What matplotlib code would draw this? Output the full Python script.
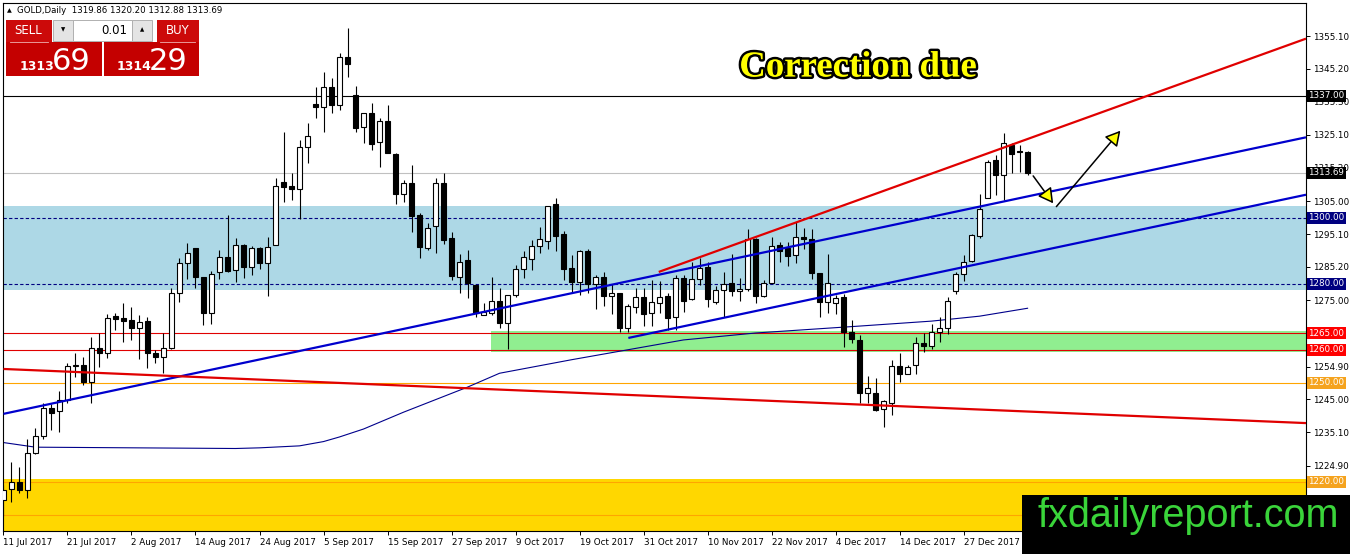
import matplotlib
matplotlib.use("Agg")
import numpy as np
import matplotlib.pyplot as plt
import matplotlib.patheffects as pe
from matplotlib.patches import Rectangle, FancyArrowPatch
from matplotlib.transforms import blended_transform_factory

# Velas diarias del oro
opens = [1214.5, 1217.7, 1220.0, 1217.5, 1228.6, 1234.0, 1242.4, 1241.5, 1244.8, 1255.2,
         1255.4, 1250.3, 1260.5, 1259.1, 1270.3, 1269.5, 1269.0, 1266.5, 1268.7, 1258.9,
         1257.7, 1260.7, 1277.1, 1286.4, 1290.8, 1282.0, 1271.3, 1283.5, 1288.1, 1284.3,
         1291.8, 1285.0, 1290.8, 1286.2, 1291.9, 1310.8, 1309.5, 1308.7, 1321.4, 1334.4,
         1333.7, 1339.5, 1334.2, 1348.8, 1337.2, 1327.4, 1331.7, 1322.9, 1329.2, 1319.3,
         1307.1, 1310.7, 1300.8, 1290.8, 1297.6, 1310.6, 1293.8, 1282.2, 1287.2, 1279.6,
         1270.6, 1271.1, 1274.8, 1268.0, 1276.6, 1284.4, 1287.5, 1291.6, 1293.1, 1304.1,
         1295.1, 1284.7, 1280.6, 1289.9, 1279.9, 1282.0, 1276.4, 1277.1, 1266.5, 1273.1,
         1275.9, 1271.1, 1274.3, 1276.3, 1269.9, 1281.7, 1275.3, 1281.4, 1285.0, 1274.6,
         1278.1, 1280.2, 1277.7, 1278.3, 1293.5, 1276.4, 1280.4, 1291.8, 1290.8, 1288.6,
         1294.3, 1293.5, 1283.2, 1274.6, 1274.3, 1275.9, 1265.5, 1263.0, 1247.0, 1247.0,
         1242.1, 1244.0, 1255.2, 1252.7, 1255.4, 1262.0, 1261.3, 1265.3, 1266.5, 1277.9,
         1283.0, 1286.9, 1294.6, 1306.1, 1317.5, 1313.0, 1322.1, 1320.3, 1319.86]
highs = [1219.0, 1226.1, 1224.6, 1232.9, 1236.2, 1243.8, 1243.5, 1247.6, 1255.9, 1258.9,
         1257.9, 1263.8, 1265.2, 1270.9, 1271.1, 1274.1, 1272.9, 1270.6, 1270.0, 1260.0,
         1265.0, 1278.6, 1287.7, 1292.3, 1290.8, 1282.0, 1284.0, 1290.3, 1300.9, 1293.8,
         1292.0, 1291.5, 1291.1, 1294.3, 1312.0, 1326.1, 1313.5, 1323.6, 1328.6, 1339.7,
         1344.3, 1342.3, 1349.9, 1357.4, 1339.9, 1331.9, 1334.7, 1330.2, 1334.2, 1319.7,
         1311.6, 1316.0, 1301.4, 1298.3, 1312.1, 1313.5, 1295.8, 1289.0, 1290.3, 1279.6,
         1274.3, 1282.2, 1278.6, 1276.6, 1285.8, 1289.8, 1293.3, 1297.1, 1303.6, 1305.9,
         1296.1, 1288.7, 1290.3, 1290.7, 1282.7, 1283.7, 1280.1, 1277.1, 1273.9, 1278.6,
         1278.6, 1281.2, 1281.0, 1277.1, 1282.7, 1282.7, 1286.7, 1287.7, 1286.7, 1279.3,
         1283.7, 1289.0, 1281.7, 1296.5, 1293.8, 1281.1, 1294.3, 1292.8, 1292.8, 1298.8,
         1296.8, 1296.5, 1283.2, 1289.0, 1276.6, 1276.9, 1269.0, 1264.5, 1252.1, 1251.4,
         1244.8, 1256.9, 1258.9, 1255.4, 1263.8, 1265.0, 1267.8, 1269.9, 1275.9, 1283.7,
         1288.7, 1295.1, 1307.2, 1317.5, 1319.0, 1325.6, 1322.6, 1322.1, 1320.20]
lows = [1209.5, 1214.0, 1216.7, 1215.0, 1228.4, 1232.9, 1235.7, 1235.2, 1243.8, 1251.9,
        1249.3, 1243.8, 1254.9, 1257.4, 1266.0, 1262.5, 1263.0, 1257.1, 1254.4, 1255.9,
        1252.9, 1260.4, 1274.6, 1281.4, 1278.6, 1267.5, 1267.8, 1281.4, 1283.5, 1280.5,
        1281.7, 1282.7, 1284.4, 1276.3, 1291.9, 1304.9, 1305.3, 1299.5, 1316.5, 1330.4,
        1326.1, 1331.7, 1332.7, 1342.8, 1326.1, 1322.6, 1320.6, 1315.5, 1319.5, 1304.2,
        1304.9, 1295.8, 1287.9, 1290.3, 1289.3, 1292.0, 1281.2, 1277.3, 1275.6, 1269.9,
        1270.6, 1270.6, 1266.5, 1260.2, 1275.9, 1281.7, 1284.2, 1289.4, 1290.6, 1290.1,
        1281.1, 1277.3, 1276.6, 1277.1, 1272.3, 1273.4, 1270.8, 1265.5, 1265.5, 1271.1,
        1267.3, 1267.3, 1271.3, 1266.0, 1266.0, 1271.6, 1275.1, 1279.6, 1273.1, 1273.9,
        1269.9, 1276.4, 1274.9, 1277.7, 1274.1, 1276.1, 1280.2, 1286.7, 1285.5, 1286.4,
        1290.5, 1281.4, 1270.0, 1271.3, 1270.8, 1260.9, 1262.2, 1243.8, 1243.8, 1241.6,
        1236.5, 1240.2, 1250.4, 1252.6, 1252.7, 1259.3, 1260.2, 1262.5, 1264.8, 1276.9,
        1281.0, 1286.7, 1293.8, 1305.9, 1307.0, 1305.4, 1313.5, 1314.0, 1312.88]
closes = [1217.5, 1220.0, 1217.5, 1228.6, 1234.0, 1242.3, 1241.0, 1244.8, 1255.2, 1255.4,
          1250.3, 1260.5, 1259.1, 1269.6, 1269.3, 1268.8, 1266.5, 1268.3, 1258.9, 1257.7,
          1260.7, 1277.1, 1286.2, 1289.3, 1282.0, 1271.3, 1283.0, 1288.1, 1284.0, 1291.8,
          1285.0, 1290.8, 1286.2, 1291.1, 1309.7, 1309.2, 1308.6, 1321.4, 1324.9, 1333.7,
          1339.5, 1334.2, 1348.8, 1346.6, 1327.3, 1331.7, 1322.3, 1329.2, 1319.7, 1307.1,
          1310.7, 1300.6, 1291.1, 1296.8, 1310.6, 1293.4, 1282.5, 1286.7, 1280.2, 1271.1,
          1271.6, 1274.8, 1268.0, 1276.6, 1284.4, 1288.0, 1291.5, 1293.5, 1303.6, 1294.6,
          1284.5, 1280.6, 1289.9, 1280.1, 1282.0, 1276.4, 1277.1, 1266.5, 1273.4, 1275.9,
          1270.9, 1274.5, 1275.9, 1269.6, 1281.7, 1274.9, 1281.4, 1284.7, 1275.3, 1278.1,
          1279.9, 1277.7, 1278.4, 1293.5, 1276.3, 1280.2, 1291.5, 1289.8, 1288.3, 1294.3,
          1293.5, 1283.2, 1274.6, 1280.2, 1275.8, 1265.5, 1263.2, 1247.0, 1248.3, 1241.8,
          1244.4, 1255.2, 1252.7, 1254.9, 1262.0, 1261.3, 1265.3, 1266.5, 1274.8, 1283.0,
          1286.7, 1294.8, 1302.6, 1317.0, 1313.0, 1322.6, 1319.2, 1320.0, 1313.69]

date_labels = ["11 Jul 2017", "21 Jul 2017", "2 Aug 2017", "14 Aug 2017", "24 Aug 2017",
               "5 Sep 2017", "15 Sep 2017", "27 Sep 2017", "9 Oct 2017", "19 Oct 2017",
               "31 Oct 2017", "10 Nov 2017", "22 Nov 2017", "4 Dec 2017", "14 Dec 2017",
               "27 Dec 2017"]
price_ticks = [1355.10, 1345.20, 1335.30, 1325.10, 1315.20, 1305.00, 1295.10, 1285.20,
               1275.00, 1265.10, 1254.90, 1245.00, 1235.10, 1224.90, 1215.00]
# estos quedan tapados por las cajas de nivel / el logo
hidden_ticks = [1265.10, 1215.00]

# media movil (indice de vela, precio)
ma_idx = [0, 4, 29, 32, 37, 40, 42, 45, 50, 58, 62, 71, 85, 94, 107, 116, 122, 128]
ma_val = [1231.9, 1230.5, 1230.1, 1230.3, 1230.9, 1232.2, 1233.6, 1236.0, 1241.1, 1248.7,
          1252.9, 1257.0, 1263.0, 1265.1, 1267.2, 1268.7, 1270.2, 1272.6]

# niveles con etiqueta en el eje derecho
level_prices = [1337.00, 1313.69, 1300.00, 1280.00, 1265.00, 1260.00, 1250.00, 1220.00]
level_line_colors = ["black", "#c0c0c0", "#000080", "#000080", "#e00000", "#e00000", "#ffa500", "#ffa500"]
level_styles = ["-", "-", (0, (3, 2)), (0, (3, 2)), "-", "-", "-", "-"]
level_box_colors = ["black", "black", "#000080", "#000080", "#ff0000", "#ff0000", "#f5a31e", "#f5a31e"]
extra_line = 1209.8

# zonas (precio bajo, precio alto, indice inicial, color)
zones = [(1278.1, 1303.6, -1, "#add8e6"), (1259.3, 1265.7, 60.9, "#90ee90"), (1195.0, 1221.0, -1, "#ffd700")]

# lineas de tendencia (indices, precios, color)
trendlines = [([0, 162.8], [1240.6, 1324.4], "#0000cd"),
              ([78.1, 162.8], [1263.6, 1307.0], "#0000cd"),
              ([81.9, 162.8], [1283.6, 1354.3], "#e00000"),
              ([0, 162.8], [1254.2, 1237.8], "#e00000")]

# flechas (inicio, fin)
arrows = [((128.7, 1312.7), (131.2, 1304.4)), ((131.6, 1303.4), (139.6, 1326.4))]

W, H = 1350, 554
fig = plt.figure(figsize=(W / 100, H / 100), dpi=100, facecolor="white")
ax = fig.add_axes([3 / W, (H - 531) / H, (1306 - 3) / W, (531 - 3) / H])
ax.set_xlim(-0.06, 162.8)
ax.set_ylim(1205.1, 1365.1)

for lo, hi, x0, col in zones:
    ax.add_patch(Rectangle((x0, lo), 200, hi - lo, facecolor=col, edgecolor="none", zorder=0))

for p, lc, ls in zip(level_prices, level_line_colors, level_styles):
    ax.axhline(p, color=lc, lw=0.8, ls=ls, zorder=1)
ax.axhline(extra_line, color="#ffa500", lw=0.8, zorder=1)

ax.plot(ma_idx, ma_val, color="#00008b", lw=0.8, zorder=2)

# velas
idx = np.arange(len(opens))
o = np.array(opens)
c = np.array(closes)
up = c >= o
body_lo = np.minimum(o, c)
body_h = np.maximum(np.abs(c - o), 0.35)
ax.vlines(idx, lows, highs, color="black", lw=0.8, zorder=4)
ax.bar(idx[up], body_h[up], bottom=body_lo[up], width=0.6, color="white", edgecolor="black", lw=0.8, zorder=5)
ax.bar(idx[~up], body_h[~up], bottom=body_lo[~up], width=0.6, color="black", edgecolor="black", lw=0.8, zorder=5)

for xs, ys, col in trendlines:
    ax.plot(xs, ys, color=col, lw=1.6, zorder=6, solid_capstyle="butt")

for start, end in arrows:
    ax.add_patch(FancyArrowPatch(start, end, arrowstyle="-|>,head_length=9,head_width=5",
                                 mutation_scale=1, facecolor="#ffff00", edgecolor="black",
                                 lw=1.1, zorder=7, shrinkA=0, shrinkB=0))

ax.text(106.8, 1342.8, "Correction due", ha="center", va="baseline", fontsize=26.5,
        family="Liberation Serif", weight="bold", color="#ffff00", zorder=8,
        path_effects=[pe.withStroke(linewidth=3.5, foreground="black")])

# ejes
ax.yaxis.tick_right()
ax.set_yticks(price_ticks, labels=["" if v in hidden_ticks else f"{v:.2f}" for v in price_ticks])
ax.set_xticks(np.arange(len(date_labels)) * 8, labels=date_labels)
for lab in ax.get_xticklabels():
    lab.set_ha("left")
ax.tick_params(axis="both", direction="out", length=3, width=0.7, labelsize=6.3, pad=2)
for s in ax.spines.values():
    s.set_linewidth(0.8)

# etiquetas de niveles en el eje derecho
tr = blended_transform_factory(ax.transAxes, ax.transData)
for p, bc in zip(level_prices, level_box_colors):
    ax.text(1.0018, p, f"{p:.2f}", transform=tr, ha="left", va="center", fontsize=6.3,
            color="white", zorder=20, clip_on=False,
            bbox=dict(boxstyle="square,pad=0.18", facecolor=bc, edgecolor="none"))

# capa de pixeles para el panel y el logo
ov = fig.add_axes([0, 0, 1, 1], zorder=10)
ov.set_xlim(0, W)
ov.set_ylim(H, 0)
ov.axis("off")

ov.text(9, 10.5, "\u25b2", fontsize=4.5, ha="center", va="center")
ov.text(17, 10.5, "GOLD,Daily  1319.86 1320.20 1312.88 1313.69", fontsize=6.2, ha="left", va="center")

red = "#cc0a0a"
ov.add_patch(Rectangle((6, 20), 46, 21.5, facecolor=red, edgecolor="none"))
ov.add_patch(Rectangle((157, 20), 42, 21.5, facecolor=red, edgecolor="none"))
ov.add_patch(Rectangle((6, 42), 96, 34, facecolor="#c40000", edgecolor="none"))
ov.add_patch(Rectangle((104, 42), 95, 34, facecolor="#c40000", edgecolor="none"))
ov.add_patch(Rectangle((53, 20), 20, 21, facecolor="#e4e4e4", edgecolor="#b0b0b0", lw=0.7))
ov.add_patch(Rectangle((73, 20), 59, 21, facecolor="white", edgecolor="#b0b0b0", lw=0.7))
ov.add_patch(Rectangle((132, 20), 20, 21, facecolor="#e4e4e4", edgecolor="#b0b0b0", lw=0.7))
ov.plot([10, 48], [41.5, 41.5], color="#f0b0b0", lw=0.6)
ov.plot([160, 195], [41.5, 41.5], color="#f0b0b0", lw=0.6)
ov.text(28, 31, "SELL", color="white", fontsize=8.5, ha="center", va="center")
ov.text(178, 31, "BUY", color="white", fontsize=8.5, ha="center", va="center")
ov.text(63, 30, "\u25bc", fontsize=4, ha="center", va="center")
ov.text(142, 30, "\u25b2", fontsize=4, ha="center", va="center")
ov.text(127, 31, "0.01", fontsize=8.5, ha="right", va="center")
ov.text(36.5, 70, "1313", color="white", fontsize=9, weight="bold", ha="center", va="baseline")
ov.text(71, 70, "69", color="white", fontsize=22, ha="center", va="baseline")
ov.text(134, 70, "1314", color="white", fontsize=9, weight="bold", ha="center", va="baseline")
ov.text(168, 70, "29", color="white", fontsize=22, ha="center", va="baseline")

ov.add_patch(Rectangle((1022, 495), 328, 59, facecolor="black", edgecolor="none"))
ov.text(1038, 527, "fxdailyreport.com", color="#3ad43a", fontsize=28.5,
        family="Liberation Sans", ha="left", va="baseline")

fig.savefig("out.png", dpi=100, facecolor="white")
